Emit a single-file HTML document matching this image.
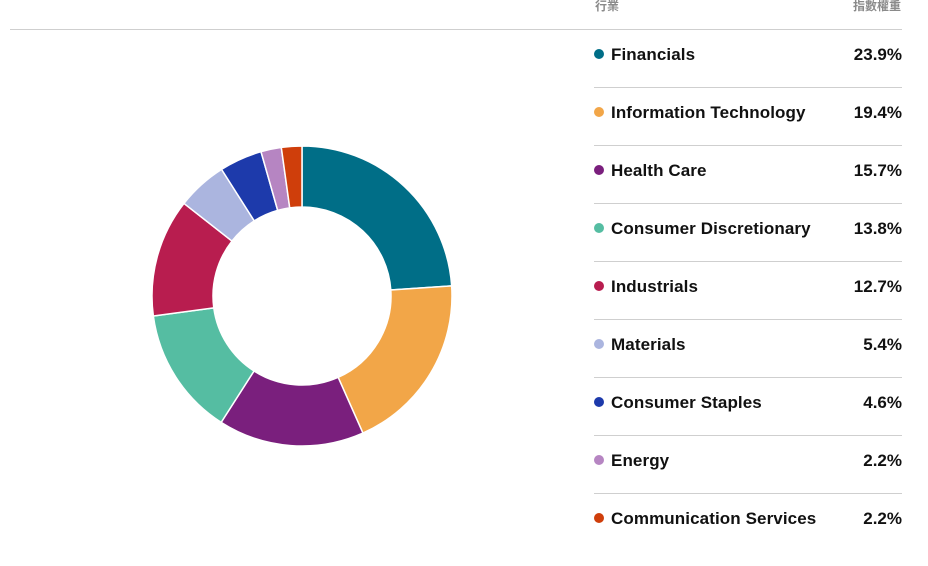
<!DOCTYPE html>
<html><head><meta charset="utf-8"><style>
body{margin:0;width:928px;height:566px;background:#fff;overflow:hidden;position:relative;font-family:"Liberation Sans","Noto Sans CJK TC",sans-serif}
.hl{position:absolute;left:10px;width:892px;top:29px;height:1px;background:#cfcfcf}
.h{position:absolute;top:-3px;font-size:12px;font-weight:bold;color:#8a8a8a;font-family:"Liberation Sans","Noto Sans CJK TC",sans-serif}
.row{position:absolute;left:594px;width:308px;height:58px;border-bottom:1px solid #cfcfcf;box-sizing:border-box}
.row.last{border-bottom:none}
.row .d{position:absolute;left:0;top:19px;width:10px;height:10px;border-radius:50%}
.row .n{position:absolute;left:17px;top:15px;font-size:17px;font-weight:bold;color:#111;letter-spacing:0.1px}
.row .v{position:absolute;right:0;top:15px;font-size:17px;font-weight:bold;color:#111}
</style></head><body>
<div class="h" style="left:595px">行業</div>
<div class="h" style="right:27px">指數權重</div>
<div class="hl"></div>
<svg id="s" width="928" height="566" style="position:absolute;left:0;top:0"></svg>
<div id="L"></div>
<script>
var d=[["Financials",23.9,"#006e87"],["Information Technology",19.4,"#f2a648"],["Health Care",15.7,"#7a1f7d"],["Consumer Discretionary",13.8,"#55bda2"],["Industrials",12.7,"#b81d4f"],["Materials",5.4,"#abb5df"],["Consumer Staples",4.6,"#1d3aab"],["Energy",2.2,"#b685c2"],["Communication Services",2.2,"#cf3e0b"]];
var cx=302,cy=296,R=150,r=89,tot=99.9,a=0,h="",l="";
function p(rad,ang){return [cx+rad*Math.sin(ang),cy-rad*Math.cos(ang)];}
d.forEach(function(e,i){var a0=a/tot*2*Math.PI;a+=e[1];var a1=a/tot*2*Math.PI;var lg=(a1-a0)>Math.PI?1:0;
var A=p(R,a0),B=p(R,a1),C=p(r,a1),D=p(r,a0);
h+='<path d="M'+A+' A'+R+' '+R+' 0 '+lg+' 1 '+B+' L'+C+' A'+r+' '+r+' 0 '+lg+' 0 '+D+' Z" fill="'+e[2]+'" stroke="#fff" stroke-width="1.5"/>';
l+='<div class="row'+(i==d.length-1?' last':'')+'" style="top:'+(30+i*58)+'px"><div class="d" style="background:'+e[2]+'"></div><div class="n">'+e[0]+'</div><div class="v">'+e[1].toFixed(1)+'%</div></div>';});
document.getElementById("s").innerHTML=h;document.getElementById("L").innerHTML=l;
</script>
</body></html>
